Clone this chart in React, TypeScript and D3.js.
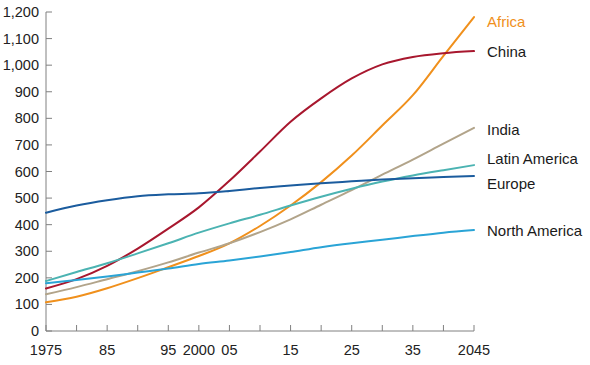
import React from "react";
import * as d3 from "d3";

const years = [1975, 1980, 1985, 1990, 1995, 2000, 2005, 2010, 2015, 2020, 2025, 2030, 2035, 2040, 2045];
const africa = [108, 129, 161, 199, 240, 282, 330, 395, 472, 560, 660, 773, 887, 1035, 1181];
const china = [160, 195, 245, 310, 385, 465, 565, 675, 787, 875, 950, 1003, 1031, 1045, 1053];
const india = [138, 165, 195, 225, 258, 295, 330, 372, 420, 475, 530, 588, 645, 705, 764];
const latinAmerica = [188, 222, 255, 292, 330, 370, 405, 437, 472, 505, 535, 562, 585, 605, 624];
const europe = [445, 472, 492, 507, 514, 518, 527, 538, 547, 556, 563, 570, 575, 579, 583];
const northAmerica = [180, 192, 205, 220, 235, 252, 265, 280, 297, 315, 330, 343, 357, 370, 380];

const seriesNames = ["Africa", "China", "India", "Latin America", "Europe", "North America"];
const seriesValues = [africa, china, india, latinAmerica, europe, northAmerica];
const seriesColors = ["#f0901c", "#a8172e", "#b2a48a", "#4bb3b2", "#1b5c9e", "#2aa4d6"];
const labelColors = ["#f0901c", "#1a1a1a", "#1a1a1a", "#1a1a1a", "#1a1a1a", "#1a1a1a"];

const yTicks = d3.range(0, 1201, 100);
const xTickYears = d3.range(1975, 2046, 5);
const xLabelYears = [1975, 1985, 1995, 2000, 2005, 2015, 2025, 2035, 2045];
const xLabelText = ["1975", "85", "95", "2000", "05", "15", "25", "35", "2045"];

// label vertical nudges (px) to avoid overlap
const labelDy = [5, 1, 2, -6, 8, 1];

export default function App() {
  const width = 590;
  const height = 365;
  const x = d3.scaleLinear().domain([1975, 2045]).range([46, 474]);
  const y = d3.scaleLinear().domain([0, 1200]).range([331, 12]);
  const line = d3
    .line<number>()
    .x((_, i) => x(years[i]))
    .y((d) => y(d))
    .curve(d3.curveMonotoneX);
  const axisColor = "#808080";
  const font = "'Liberation Sans', Arial, sans-serif";

  return (
    <svg
      width={width}
      height={height}
      style={{ position: "absolute", left: 0, top: 0, background: "#fff" }}
      fontFamily={font}
    >
      {/* y axis */}
      <line x1={x(1975)} x2={x(1975)} y1={y(1200)} y2={y(0)} stroke={axisColor} strokeWidth={1} />
      {yTicks.map((t) => (
        <g key={"y" + t}>
          <line x1={x(1975)} x2={x(1975) + 6} y1={y(t)} y2={y(t)} stroke={axisColor} strokeWidth={1} />
          <text
            x={39}
            y={y(t)}
            dy="0.35em"
            textAnchor="end"
            fontSize={14.5}
            fill="#222"
          >
            {d3.format(",")(t)}
          </text>
        </g>
      ))}
      {/* x axis */}
      <line x1={x(1975)} x2={x(2045)} y1={y(0)} y2={y(0)} stroke={axisColor} strokeWidth={1} />
      {xTickYears.map((t) => (
        <line key={"xt" + t} x1={x(t)} x2={x(t)} y1={y(0)} y2={y(0) - 6} stroke={axisColor} strokeWidth={1} />
      ))}
      {xLabelYears.map((t, i) => (
        <text key={"xl" + t} x={x(t)} y={355} textAnchor="middle" fontSize={14.5} fill="#222">
          {xLabelText[i]}
        </text>
      ))}
      {/* lines */}
      {seriesValues.map((vals, i) => (
        <path
          key={seriesNames[i]}
          d={line(vals) || ""}
          fill="none"
          stroke={seriesColors[i]}
          strokeWidth={2}
          strokeLinejoin="round"
          strokeLinecap="round"
        />
      ))}
      {/* labels */}
      {seriesValues.map((vals, i) => (
        <text
          key={"lab" + i}
          x={487}
          y={y(vals[vals.length - 1]) + labelDy[i]}
          dy="0.35em"
          fontSize={15}
          fill={labelColors[i]}
        >
          {seriesNames[i]}
        </text>
      ))}
    </svg>
  );
}
